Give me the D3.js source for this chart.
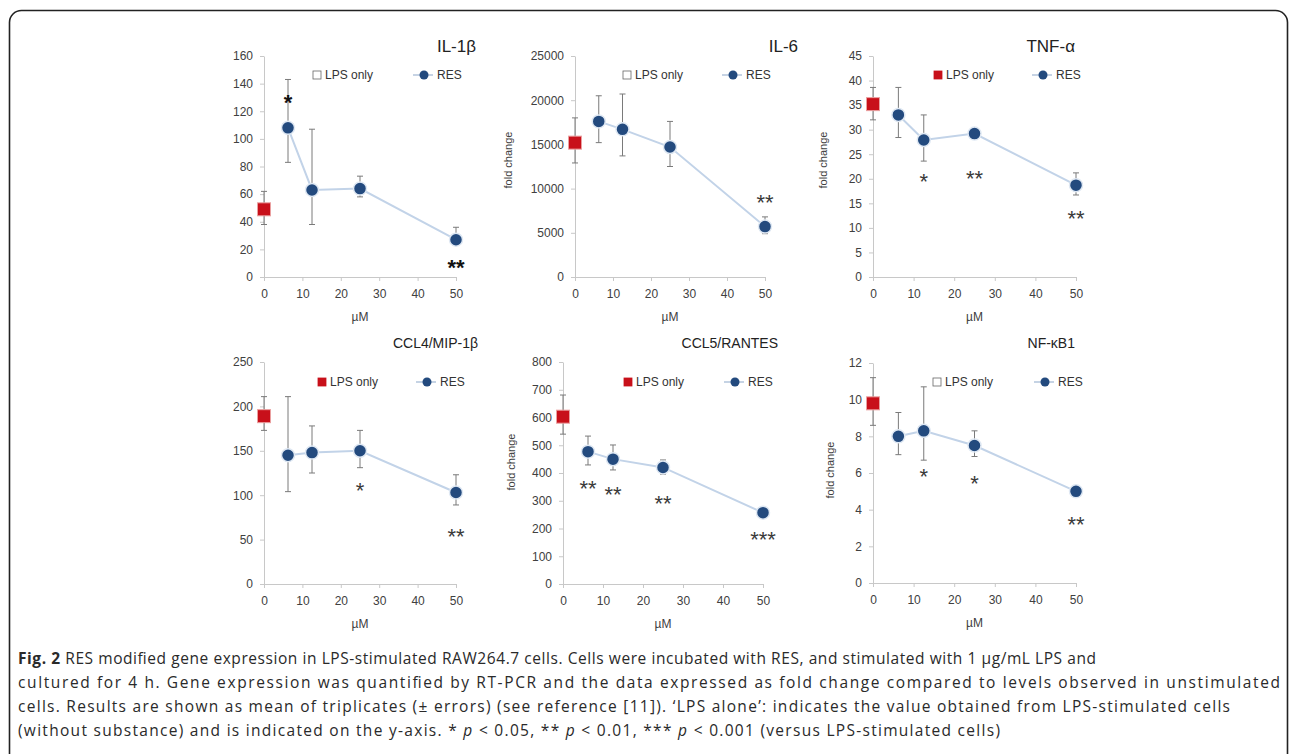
<!DOCTYPE html>
<html>
<head>
<meta charset="utf-8">
<script src="https://cdn.jsdelivr.net/npm/d3@7"></script>
<style>
  body { margin: 0; background: #fff; }
  svg { display: block; }
  text { font-family: "Liberation Sans", Arial, sans-serif; }
</style>
</head>
<body>
<svg id="fig" width="1290" height="754"></svg>
<script>
//
// DATA
//
const doses = [6.25, 12.5, 25, 50]
const xTicks = [0, 10, 20, 30, 40, 50]
const titles = ['IL-1β', 'IL-6', 'TNF-α', 'CCL4/MIP-1β', 'CCL5/RANTES', 'NF-κB1']
const yMaxes = [160, 25000, 45, 250, 800, 12]
const ySteps = [20, 5000, 5, 50, 100, 2]

// LPS only: [value, error up, error down]
const lpsOnly = [[49, 13, 11], [15200, 2800, 2300], [35.2, 3.4, 3.2], [189, 22, 16], [603, 78, 63], [9.8, 1.4, 1.2]]

// RES series, one row per gene
const resVals = [
    [108, 63, 64, 27],
    [17600, 16700, 14700, 5700],
    [33, 27.9, 29.2, 18.7],
    [145, 148, 150, 103],
    [477, 450, 420, 257],
    [8.0, 8.3, 7.5, 5.0],
]
const resErrUp = [
    [35, 44, 9, 9],
    [2900, 4000, 2900, 1100],
    [5.6, 5.1, 0.4, 2.5],
    [66, 30, 23, 20],
    [56, 51, 27, 8],
    [1.3, 2.4, 0.8, 0.1],
]
const resErrDn = [
    [25, 25, 6, 4],
    [2400, 3000, 2200, 800],
    [4.6, 4.3, 0.4, 2.0],
    [41, 23, 19, 14],
    [48, 39, 24, 8],
    [1.0, 1.6, 0.6, 0.1],
]
// significance marks and the value level they sit at
const stars = [
    ['*', '', '', '**'],
    ['', '', '', '**'],
    ['', '*', '**', '**'],
    ['', '', '*', '**'],
    ['**', '**', '**', '***'],
    ['', '*', '*', '**'],
]
const starAt = [
    [130, null, null, 10],
    [null, null, null, 9000],
    [null, 20.4, 21, 12.8],
    [null, null, 110, 59],
    [360, 339, 306, 177],
    [null, 6.07, 5.66, 3.44],
]

//
// LAYOUT
//
const panels = [
    { x0: 264, x1: 456, yTop: 56, yBot: 277, titleX: 476, titleY: 52, titleSize: 17, legY: 75, sqDx: 53, resDx: 160, filled: false, fold: null, starSize: 22, starBold: true },
    { x0: 575, x1: 765, yTop: 56, yBot: 277, titleX: 798, titleY: 52, titleSize: 17, legY: 75, sqDx: 52, resDx: 158, filled: false, fold: [508, 160], starSize: 22 },
    { x0: 873, x1: 1076, yTop: 56, yBot: 277, titleX: 1075, titleY: 52, titleSize: 17, legY: 75, sqDx: 65, resDx: 170, filled: true, fold: [823, 160], starSize: 22 },
    { x0: 264, x1: 456, yTop: 362, yBot: 584, titleX: 478, titleY: 348, titleSize: 14, legY: 382, sqDx: 58, resDx: 163, filled: true, fold: null, starSize: 22 },
    { x0: 563, x1: 763, yTop: 362, yBot: 584, titleX: 778, titleY: 348, titleSize: 14, legY: 382, sqDx: 65, resDx: 172, filled: true, fold: [511, 462], starSize: 22 },
    { x0: 873, x1: 1076, yTop: 363, yBot: 583, titleX: 1075, titleY: 348, titleSize: 14, legY: 382, sqDx: 64, resDx: 172, filled: false, fold: [830, 470], starSize: 22 },
]

const axisColor = '#c8c8c8'
const labelColor = '#404040'
const navy = '#234a7e'
const red = '#c8101a'
const lineBlue = '#c2d3e8'

const svg = d3.select('#fig')

// outer frame with rounded corners (bottom runs off the page)
svg.append('rect')
    .attr('x', 9.5).attr('y', 10.5)
    .attr('width', 1278).attr('height', 900)
    .attr('rx', 12)
    .attr('fill', 'none').attr('stroke', '#222').attr('stroke-width', 1.6)

const drawPanel = (p, i) => {
    const g = svg.append('g')
    const x = d3.scaleLinear().domain([0, 50]).range([p.x0, p.x1])
    const y = d3.scaleLinear().domain([0, yMaxes[i]]).range([p.yBot, p.yTop])

    // axes
    const xAxis = g.append('g')
        .attr('transform', `translate(0,${p.yBot})`)
        .call(d3.axisBottom(x).tickValues(xTicks).tickSize(4).tickSizeOuter(0).tickPadding(8))
    const yAxis = g.append('g')
        .attr('transform', `translate(${p.x0},0)`)
        .call(d3.axisLeft(y)
            .tickValues(d3.range(0, yMaxes[i] + ySteps[i] / 2, ySteps[i]))
            .tickFormat(d3.format('d'))
            .tickSize(4).tickSizeOuter(0).tickPadding(7))
    for (const ax of [xAxis, yAxis]) {
        ax.select('.domain').attr('stroke', axisColor)
        ax.selectAll('.tick line').attr('stroke', axisColor)
        ax.selectAll('.tick text').attr('fill', labelColor).style('font-size', '12px')
            .style('font-family', '"Liberation Sans", Arial, sans-serif')
    }

    // axis titles
    g.append('text')
        .attr('x', (p.x0 + p.x1) / 2).attr('y', p.yBot + 44)
        .attr('text-anchor', 'middle').attr('fill', labelColor)
        .style('font-size', '12px').text('µM')
    if (p.fold) {
        g.append('text')
            .attr('transform', `translate(${p.fold[0]},${p.fold[1]}) rotate(-90)`)
            .attr('text-anchor', 'middle').attr('dy', '0.35em').attr('fill', labelColor)
            .style('font-size', '11px').text('fold change')
    }

    // chart title
    g.append('text')
        .attr('x', p.titleX).attr('y', p.titleY)
        .attr('text-anchor', 'end').attr('fill', '#222')
        .style('font-size', p.titleSize + 'px').text(titles[i])

    // legend
    const lx = p.x0 + p.sqDx
    g.append('rect')
        .attr('x', lx - 4).attr('y', p.legY - 4).attr('width', 8).attr('height', 8)
        .attr('fill', p.filled ? red : '#fff').attr('stroke', p.filled ? red : '#666').attr('stroke-width', 0.8)
    g.append('text')
        .attr('x', lx + 8).attr('y', p.legY).attr('dy', '0.36em').attr('fill', '#333')
        .style('font-size', '12px').text('LPS only')
    const rx = p.x0 + p.resDx
    g.append('line')
        .attr('x1', rx - 11).attr('x2', rx + 9).attr('y1', p.legY).attr('y2', p.legY)
        .attr('stroke', '#9fb6d2').attr('stroke-width', 1.2)
    g.append('circle').attr('cx', rx).attr('cy', p.legY).attr('r', 4.5).attr('fill', navy)
    g.append('text')
        .attr('x', rx + 13).attr('y', p.legY).attr('dy', '0.36em').attr('fill', '#333')
        .style('font-size', '12px').text('RES')

    // error bars (LPS + RES)
    const bars = [{ d: 0, v: lpsOnly[i][0], up: lpsOnly[i][1], dn: lpsOnly[i][2] }]
    doses.forEach((d, k) => bars.push({ d, v: resVals[i][k], up: resErrUp[i][k], dn: resErrDn[i][k] }))
    for (const b of bars) {
        const cx = x(b.d), yHi = y(b.v + b.up), yLo = y(b.v - b.dn)
        g.append('line').attr('x1', cx).attr('x2', cx).attr('y1', yHi).attr('y2', yLo)
            .attr('stroke', '#7a7a7a').attr('stroke-width', 1)
        for (const yy of [yHi, yLo]) {
            g.append('line').attr('x1', cx - 3).attr('x2', cx + 3).attr('y1', yy).attr('y2', yy)
                .attr('stroke', '#7a7a7a').attr('stroke-width', 1)
        }
    }

    // RES line
    g.append('path')
        .datum(doses.map((d, k) => [d, resVals[i][k]]))
        .attr('d', d3.line().x(d => x(d[0])).y(d => y(d[1])))
        .attr('fill', 'none').attr('stroke', lineBlue).attr('stroke-width', 2)

    // RES points
    g.selectAll('circle.res')
        .data(doses.map((d, k) => [d, resVals[i][k]]))
        .join('circle').attr('class', 'res')
        .attr('cx', d => x(d[0])).attr('cy', d => y(d[1])).attr('r', 6.5)
        .attr('fill', navy).attr('stroke', '#dfe8f3').attr('stroke-width', 1.5)

    // LPS only square on the y axis
    g.append('rect')
        .attr('x', x(0) - 6.5).attr('y', y(lpsOnly[i][0]) - 6.5).attr('width', 13).attr('height', 13)
        .attr('fill', red).attr('stroke', '#eaa0a0').attr('stroke-width', 1)

    // significance stars
    doses.forEach((d, k) => {
        if (!stars[i][k]) return
        g.append('text')
            .attr('x', x(d)).attr('y', y(starAt[i][k]) + p.starSize * 0.55)
            .attr('text-anchor', 'middle').attr('fill', p.starBold ? '#111' : '#3a3a3a')
            .style('font-size', p.starSize + 'px').style('font-weight', p.starBold ? 'bold' : 'normal')
            .text(stars[i][k])
    })
}

panels.forEach(drawPanel)

//
// CAPTION
//
const captionLines = [
    [['b', 'Fig. 2'], ['n', ' RES modified gene expression in LPS-stimulated RAW264.7 cells. Cells were incubated with RES, and stimulated with 1 µg/mL LPS and']],
    [['n', 'cultured for 4 h. Gene expression was quantified by RT-PCR and the data expressed as fold change compared to levels observed in unstimulated']],
    [['n', 'cells. Results are shown as mean of triplicates (± errors) (see reference [11]). ‘LPS alone’: indicates the value obtained from LPS-stimulated cells']],
    [['n', '(without substance) and is indicated on the y-axis. * '], ['i', 'p'], ['n', ' < 0.05, ** '], ['i', 'p'], ['n', ' < 0.01, *** '], ['i', 'p'], ['n', ' < 0.001 (versus LPS-stimulated cells)']],
]
const captionWidths = [1078, 1262, 1212, 982]

captionLines.forEach((parts, li) => {
    const t = svg.append('text')
        .attr('x', 18).attr('y', 664 + li * 24)
        .attr('textLength', captionWidths[li]).attr('lengthAdjust', 'spacing')
        .attr('fill', '#2a2a2a')
        .style('font-family', '"Open Sans", "Noto Sans", sans-serif')
        .style('font-size', '15.5px')
    for (const [kind, s] of parts) {
        t.append('tspan')
            .style('font-weight', kind === 'b' ? 'bold' : 'normal')
            .style('font-style', kind === 'i' ? 'italic' : 'normal')
            .text(s)
    }
})
</script>
</body>
</html>
